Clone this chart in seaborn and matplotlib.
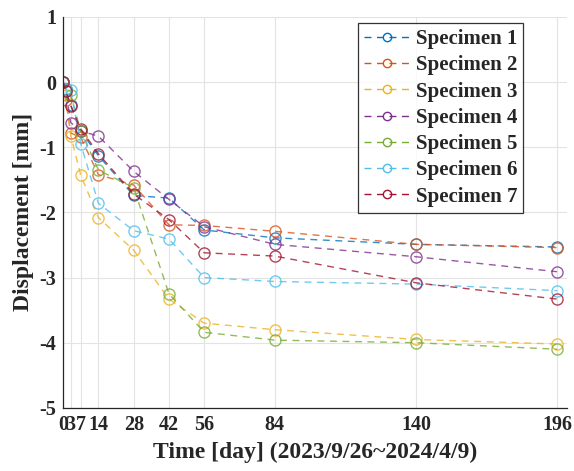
import pandas as pd
import matplotlib
matplotlib.use("Agg")
import matplotlib.pyplot as plt
import seaborn as sns

# data
days = [0, 1, 3, 7, 14, 28, 42, 56, 84, 140, 196]
s1 = [0, -0.12, -0.35, -0.75, -1.13, -1.74, -1.78, -2.27, -2.39, -2.49, -2.53]
s2 = [0, -0.28, -0.78, -0.85, -1.42, -1.58, -2.19, -2.20, -2.29, -2.49, -2.54]
s3 = [0, -0.20, -0.82, -1.43, -2.08, -2.58, -3.33, -3.70, -3.80, -3.95, -4.02]
s4 = [0, -0.10, -0.62, -0.75, -0.83, -1.37, -1.80, -2.22, -2.49, -2.68, -2.91]
s5 = [0, -0.10, -0.20, -0.75, -1.35, -1.62, -3.25, -3.84, -3.96, -4.00, -4.10]
s6 = [0, -0.10, -0.12, -0.95, -1.86, -2.28, -2.41, -3.00, -3.06, -3.10, -3.20]
s7 = [0, -0.13, -0.36, -0.72, -1.10, -1.72, -2.11, -2.62, -2.67, -3.08, -3.33]

names = ["Specimen 1", "Specimen 2", "Specimen 3", "Specimen 4",
         "Specimen 5", "Specimen 6", "Specimen 7"]
series = [s1, s2, s3, s4, s5, s6, s7]
colors = ["#0072BD", "#D95319", "#EDB120", "#7E2F8E",
          "#77AC30", "#4DBEEE", "#A2142F"]
xticks = [0, 3, 7, 14, 28, 42, 56, 84, 140, 196]

sns.set_style("white")
plt.rcParams["font.family"] = ["Liberation Serif", "DejaVu Serif"]
plt.rcParams["font.weight"] = "bold"
plt.rcParams["axes.unicode_minus"] = False

fig = plt.figure(figsize=(5.74, 4.71), dpi=100)
ax = fig.add_axes([0.11, 0.134, 0.878, 0.83])

for name, vals, c in zip(names, series, colors):
    df = pd.DataFrame({"Time": days, "Disp": vals})
    sns.lineplot(data=df, x="Time", y="Disp", ax=ax, color=c, label=name,
                 linestyle=(0, (5, 4)), linewidth=1.0, alpha=0.8,
                 marker="o", markersize=8, markerfacecolor="none",
                 markeredgecolor=c, markeredgewidth=1.0)

ax.set_xlim(0, 200)
ax.set_ylim(-5, 1)
ax.set_xticks(xticks)
ax.set_yticks([1, 0, -1, -2, -3, -4, -5])
ax.tick_params(direction="in", length=4, labelsize=14.5, width=0.8, pad=5)
for lab in ax.get_xticklabels() + ax.get_yticklabels():
    lab.set_fontweight("bold")
ax.grid(True, color="#e3e3e3", linewidth=0.8)
ax.spines["top"].set_visible(False)
ax.spines["right"].set_visible(False)
ax.spines["left"].set_linewidth(0.9)
ax.spines["bottom"].set_linewidth(0.9)

ax.set_xlabel("Time [day] (2023/9/26~2024/4/9)", fontsize=17, fontweight="bold", labelpad=5)
ax.set_ylabel("Displacement [mm]", fontsize=17, fontweight="bold", labelpad=4)

leg = ax.legend(loc="upper right", bbox_to_anchor=(0.913, 0.985),
                frameon=True, fancybox=False, edgecolor="black",
                handlelength=2.2, handletextpad=0.25, labelspacing=0.3,
                borderpad=0.3, borderaxespad=0,
                prop={"weight": "bold", "size": 15})
leg.get_frame().set_linewidth(0.9)
for h in leg.legend_handles:
    h.set_markersize(6)
    h.set_alpha(1)

plt.savefig("out.png", dpi=100)
